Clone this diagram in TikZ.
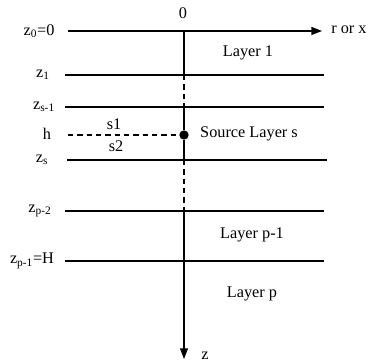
\documentclass[tikz,border=0pt]{standalone}
\usepackage{fontspec}
\setmainfont{Liberation Serif}
\usetikzlibrary{arrows.meta}
\newcommand{\lsub}[1]{\textsubscript{#1}}

\begin{document}
\begin{tikzpicture}[x=0.75pt,y=-0.75pt,
  bound/.style={line width=1.1pt},
  axis/.style={line width=0.8pt},
  gap/.style={axis, dash pattern=on 4pt off 3pt},
  lbl/.style={font=\fontsize{12.2}{14}\selectfont, inner sep=0pt}]

\useasboundingbox (0,0) rectangle (368,363);

% Depth labels on the left
\node[lbl] (z0) at (39,31) {z\lsub{0}=0};
\node[lbl] (z1) at (43,75) {z\lsub{1}};
\node[lbl] (zs1) at (44,107) {z\lsub{s-1}};
\node[lbl] (h) at (47,134) {h};
\node[lbl] (zs) at (42,160) {z\lsub{s}};
\node[lbl] (zp2) at (40,211) {z\lsub{p-2}};
\node[lbl] (zp1) at (32,261) {z\lsub{p-1}=H};

% Interface ends
\coordinate (l0) at (68,31);   \coordinate (r0) at (322,31);
\coordinate (l1) at (65,75);   \coordinate (r1) at (324,75);
\coordinate (ls1) at (65,107); \coordinate (rs1) at (324,107);
\coordinate (lh) at (68,135);
\coordinate (ls) at (67,160);  \coordinate (rs) at (327,160);
\coordinate (lp2) at (65,211); \coordinate (rp2) at (324,211);
\coordinate (lp1) at (65,261); \coordinate (rp1) at (324,261);

% Points on the z axis
\coordinate (o) at (184,31);
\coordinate (a1) at (184,75);
\coordinate (as1) at (184,107);
\coordinate (as) at (184,160);
\coordinate (ap2) at (184,211);
\coordinate (zend) at (184,359);
\node[circle, fill, inner sep=0pt, minimum size=7pt] (src) at (184,135) {};

% Surface with r axis
\draw[bound, -{Triangle[length=8pt,width=6pt]}] (l0) -- (r0);
\node[lbl, anchor=west] (rx) at (331,30) {r or x};
\node[lbl] (orig) at (183,13) {0};

% Layer interfaces
\draw[bound] (l1) -- (r1);
\draw[bound] (ls1) -- (rs1);
\draw[bound] (ls) -- (rs);
\draw[bound] (lp2) -- (rp2);
\draw[bound] (lp1) -- (rp1);

% Source depth
\draw[gap] (lh) -- (src);
\node[lbl] (s1) at (114,124) {s1};
\node[lbl] (s2) at (116,146) {s2};

% z axis
\draw[axis] (o) -- (a1);
\draw[gap] (a1) -- (as1);
\draw[axis] (as1) -- (src) -- (as);
\draw[gap] (as) -- (ap2);
\draw[axis, -{Triangle[length=8pt,width=6pt]}] (ap2) -- (zend);
\node[lbl] (zlab) at (205,356) {z};

% Layer names
\node[lbl] (lay1) at (248,53) {Layer 1};
\node[lbl] (lays) at (249,134) {Source Layer s};
\node[lbl] (layp1) at (252,235) {Layer p-1};
\node[lbl] (layp) at (252,294) {Layer p};

\end{tikzpicture}
\end{document}
